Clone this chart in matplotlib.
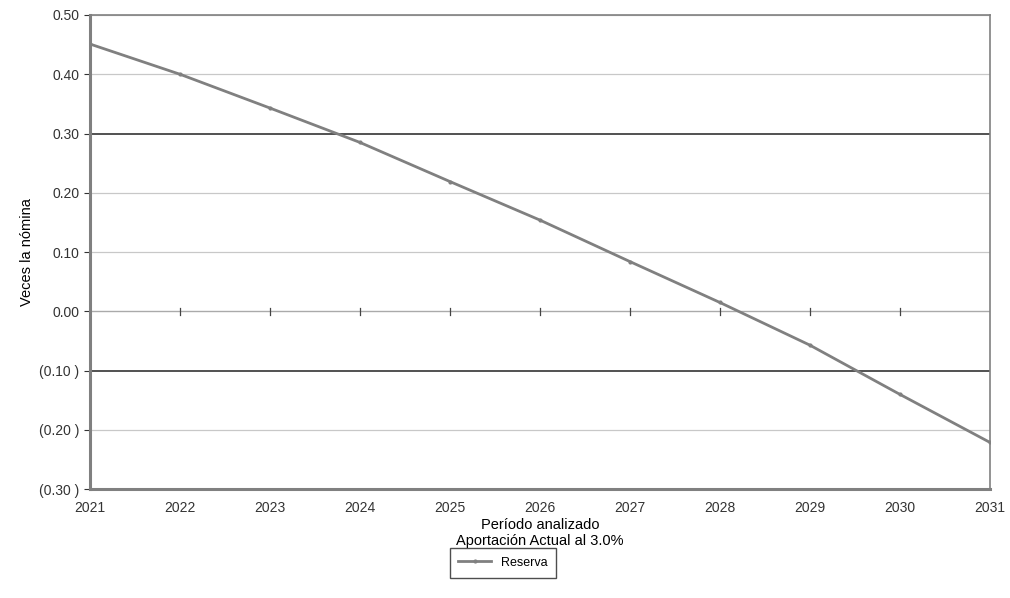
import matplotlib
matplotlib.use("Agg")
import matplotlib.pyplot as plt
from matplotlib.ticker import FuncFormatter

years = [2021, 2022, 2023, 2024, 2025, 2026, 2027, 2028, 2029, 2030, 2031]
reserva = [0.451, 0.400, 0.343, 0.285, 0.219, 0.154, 0.084, 0.015, -0.057, -0.140, -0.221]
y_ticks = [-0.30, -0.20, -0.10, 0.00, 0.10, 0.20, 0.30, 0.40, 0.50]
dark_lines = [0.30, -0.10]

plt.rcParams["font.family"] = ["Liberation Sans", "DejaVu Sans"]


def fmt(v, pos):
    if v < -1e-9:
        return "(%.2f )" % abs(v)
    return "%.2f" % v


fig = plt.figure(figsize=(10.1, 5.98), dpi=100)
ax = fig.add_axes([0.089, 0.182, 0.891, 0.793])

for t in y_ticks:
    if any(abs(t - d) < 1e-9 for d in dark_lines):
        ax.axhline(t, color="#222222", lw=1.1, zorder=1)
    elif abs(t) < 1e-9:
        ax.axhline(t, color="#aaaaaa", lw=1.0, zorder=1)
    else:
        ax.axhline(t, color="#c8c8c8", lw=0.9, zorder=1)

# little tick marks on the zero line
for yr in years[1:-1]:
    ax.plot([yr, yr], [-0.006, 0.006], color="#444444", lw=0.9, zorder=2)

ax.plot(years, reserva, color="#808080", lw=2.0, marker="o", markersize=2,
        zorder=3, label="Reserva")

ax.set_xlim(2021, 2031)
ax.set_ylim(-0.30, 0.50)
ax.set_xticks(years)
ax.set_yticks(y_ticks)
ax.yaxis.set_major_formatter(FuncFormatter(fmt))
ax.tick_params(axis="both", labelsize=10, colors="#333333", length=4)
ax.tick_params(axis="x", length=0, pad=8.5)

for side in ["left", "bottom"]:
    ax.spines[side].set_color("#808080")
    ax.spines[side].set_linewidth(2.2)
for side in ["right", "top"]:
    ax.spines[side].set_color("#808080")
    ax.spines[side].set_linewidth(1.2)

ax.set_xlabel("Período analizado\nAportación Actual al 3.0%", fontsize=10.5, labelpad=2)
ax.set_ylabel("Veces la nómina", fontsize=10.5)

leg = ax.legend(loc="upper center", bbox_to_anchor=(0.459, -0.111), fontsize=9,
                frameon=True, fancybox=False, handlelength=2.6, borderpad=0.7)
leg.get_frame().set_edgecolor("#222222")
leg.get_frame().set_linewidth(1.0)

fig.savefig("out.png", dpi=100)
